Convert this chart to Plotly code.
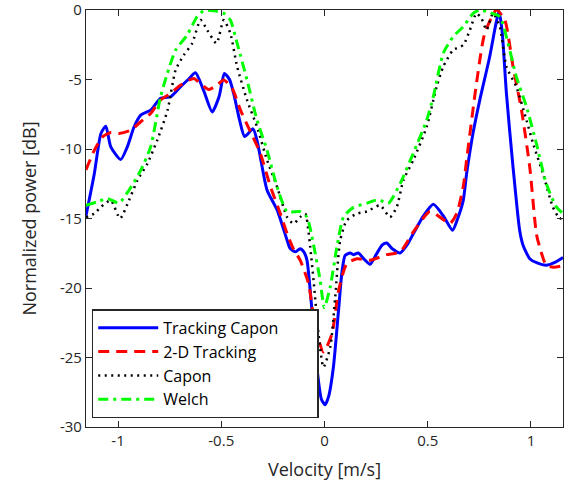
import plotly.graph_objects as go

# ---- data ----
tc_x = [-1.155, -1.115, -1.083, -1.059, -1.035, -0.987, -0.955, -0.922, -0.89, -0.842, -0.794, -0.745,
        -0.697, -0.66, -0.625, -0.585, -0.544, -0.51, -0.485, -0.46, -0.44, -0.41, -0.387, -0.346,
        -0.325, -0.311, -0.278, -0.229, -0.181, -0.166, -0.14, -0.118, -0.1, -0.085, -0.069, -0.061,
        -0.037, -0.015, 0.003, 0.02, 0.043, 0.068, 0.085, 0.1, 0.124, 0.14, 0.164, 0.19, 0.221, 0.25,
        0.28, 0.301, 0.33, 0.366, 0.4, 0.43, 0.48, 0.527, 0.575, 0.62, 0.645, 0.672, 0.688, 0.72,
        0.752, 0.8, 0.83, 0.845, 0.86, 0.881, 0.913, 0.945, 0.961, 0.994, 1.03, 1.074, 1.11, 1.155]
tc_y = [-14.8, -11.8, -8.9, -8.36, -9.85, -10.76, -9.85, -8.4, -7.56, -7.2, -6.36, -6.24,
        -5.52, -5.0, -4.52, -5.8, -7.33, -6.2, -4.56, -5.0, -6.0, -8.0, -9.1, -8.55,
        -9.5, -10.57, -12.97, -14.4, -16.57, -17.17, -17.4, -17.17, -17.4, -18.0, -20.2, -21.6,
        -25.7, -28.0, -28.4, -27.8, -25.7, -21.6, -18.8, -17.65, -17.48, -17.6, -17.48, -17.9, -18.3, -17.6,
        -16.9, -16.76, -17.2, -17.48, -16.9, -16.1, -14.8, -13.98, -14.8, -15.85, -15.0, -13.7, -11.8, -8.8,
        -6.48, -3.36, -1.0, -0.1, -1.5, -6.0, -11.3, -15.85, -16.9, -17.89, -18.2, -18.37, -18.2, -17.8]

tr_x = [-1.155, -1.115, -1.075, -1.035, -0.995, -0.939, -0.89, -0.842, -0.794, -0.745, -0.697, -0.633,
        -0.6, -0.56, -0.52, -0.488, -0.447, -0.407, -0.351, -0.311, -0.262, -0.214, -0.181, -0.15,
        -0.118, -0.077, -0.045, -0.005, 0.036, 0.068, 0.108, 0.157, 0.221, 0.301, 0.366, 0.43, 0.51,
        0.559, 0.607, 0.64, 0.672, 0.688, 0.736, 0.776, 0.833, 0.873, 0.913, 0.954, 0.994, 1.026,
        1.042, 1.074, 1.11, 1.155]
tr_y = [-11.5, -10.1, -9.13, -8.81, -8.88, -8.65, -8.04, -7.44, -6.48, -6.0, -5.4, -4.92,
        -5.3, -5.72, -5.4, -5.04, -5.64, -7.2, -9.0, -10.3, -12.7, -14.65, -16.1, -17.2,
        -18.0, -19.7, -22.8, -24.6, -23.3, -20.2, -18.25, -17.9, -18.0, -17.6, -17.4, -15.97, -14.5,
        -14.9, -15.37, -14.65, -12.7, -10.8, -5.28, -1.68, 0.0, -0.72, -4.08, -7.2, -11.3, -16.1,
        -17.05, -18.37, -18.5, -18.4]

cp_x = [-1.155, -1.115, -1.083, -1.035, -0.99, -0.947, -0.906, -0.858, -0.81, -0.76, -0.721, -0.681,
        -0.641, -0.6, -0.568, -0.523, -0.488, -0.456, -0.423, -0.375, -0.327, -0.278, -0.23, -0.181,
        -0.15, -0.118, -0.093, -0.077, -0.069, -0.053, -0.029, -0.005, 0.028, 0.052, 0.076, 0.108,
        0.157, 0.205, 0.269, 0.317, 0.35, 0.382, 0.43, 0.495, 0.543, 0.575, 0.623, 0.672, 0.704,
        0.736, 0.76, 0.785, 0.816, 0.849, 0.881, 0.929, 0.978, 1.01, 1.058, 1.106, 1.139, 1.155]
cp_y = [-14.9, -14.65, -14.17, -13.7, -15.0, -13.7, -12.25, -11.05, -9.37, -7.2, -4.32, -3.24,
        -2.4, -0.72, -1.44, -2.4, -0.72, -1.68, -4.08, -6.48, -8.4, -10.8, -12.7, -14.9,
        -15.37, -14.9, -14.65, -16.0, -17.05, -19.45, -23.3, -25.7, -24.25, -20.65, -16.57, -15.13,
        -14.65, -14.5, -14.05, -14.9, -14.17, -12.25, -10.8, -8.4, -5.52, -4.08, -2.88, -2.52, -1.44,
        -0.24, -0.6, -1.44, -0.24, -1.2, -4.08, -5.52, -7.92, -9.6, -11.77, -14.17, -15.0, -14.9]

we_x = [-1.155, -1.1, -1.051, -0.995, -0.947, -0.89, -0.842, -0.794, -0.761, -0.721, -0.665, -0.617,
        -0.585, -0.536, -0.488, -0.456, -0.423, -0.375, -0.327, -0.278, -0.23, -0.181, -0.118, -0.085,
        -0.053, -0.021, -0.001, 0.028, 0.06, 0.092, 0.14, 0.205, 0.261, 0.309, 0.366, 0.43, 0.495,
        0.527, 0.575, 0.623, 0.672, 0.72, 0.752, 0.8, 0.849, 0.889, 0.929, 0.978, 1.026, 1.074,
        1.123, 1.155]
we_y = [-14.05, -13.8, -13.57, -13.88, -12.97, -11.53, -9.85, -6.24, -4.56, -2.88, -1.8, -0.48,
        -0.05, -0.05, -0.24, -0.72, -2.4, -5.04, -7.92, -10.1, -12.7, -14.5, -14.5, -14.9,
        -16.9, -19.45, -21.4, -19.9, -17.05, -14.9, -14.2, -13.9, -13.64, -13.9, -12.5, -10.3, -7.92,
        -6.24, -3.12, -1.92, -1.2, -0.24, 0.0, -0.19, -0.48, -2.4, -4.8, -6.96, -9.6, -12.49,
        -14.17, -14.65]

names = ["Tracking Capon", "2-D Tracking", "Capon", "Welch"]
x_ticks = [-1, -0.5, 0, 0.5, 1]
x_tick_labels = ["-1", "-0.5", "0", "0.5", "1"]
y_ticks = [-30, -25, -20, -15, -10, -5, 0]
y_tick_labels = ["-30", "-25", "-20", "-15", "-10", "-5", "0"]

FONT = "Open Sans"
AX = "#262626"
pad = "\u00a0" * 8

fig = go.Figure()
fig.add_trace(go.Scatter(x=tc_x, y=tc_y, mode="lines", name=names[0] + pad,
                         line=dict(color="#0000ff", width=3, shape="spline", smoothing=0.6)))
fig.add_trace(go.Scatter(x=tr_x, y=tr_y, mode="lines", name=names[1],
                         line=dict(color="#ff0000", width=3, dash="11px,7px", shape="spline", smoothing=0.6)))
fig.add_trace(go.Scatter(x=cp_x, y=cp_y, mode="lines", name=names[2],
                         line=dict(color="#000000", width=2.5, dash="2px,4.5px", shape="spline", smoothing=0.6)))
fig.add_trace(go.Scatter(x=we_x, y=we_y, mode="lines", name=names[3],
                         line=dict(color="#00ff00", width=3, dash="10px,5px,3px,5px", shape="spline", smoothing=0.6)))

axis_common = dict(showline=True, linecolor=AX, linewidth=1.2, mirror="ticks", ticks="inside",
                   ticklen=6, tickwidth=1.2, tickcolor=AX, showgrid=False, zeroline=False,
                   automargin=False, ticklabeloverflow="allow",
                   tickfont=dict(family=FONT, size=15, color=AX))

fig.update_xaxes(range=[-1.155, 1.155], tickvals=x_ticks, ticktext=x_tick_labels,
                 title=dict(text="Velocity [m/s]", font=dict(family=FONT, size=18, color=AX), standoff=14),
                 **axis_common)
fig.update_yaxes(range=[-30, 0], tickvals=y_ticks, ticktext=y_tick_labels,
                 title=dict(text="Normalized power [dB]", font=dict(family=FONT, size=18, color=AX), standoff=18),
                 **axis_common)

fig.update_layout(
    width=573, height=495,
    margin=dict(l=86, r=10, t=10, b=68, autoexpand=False),
    paper_bgcolor="white", plot_bgcolor="white",
    font=dict(family=FONT, color=AX),
    legend=dict(x=0.012, y=0.282, xanchor="left", yanchor="top",
                bgcolor="white", bordercolor=AX, borderwidth=1.5,
                font=dict(family=FONT, size=16, color="#000000"),
                itemwidth=60, tracegroupgap=0),
    showlegend=True,
)

# remove the browser's default 8px page margin so the figure sits at the window's corner
fig.write_html("out.html", config={"displayModeBar": False},
               post_script="document.body.style.margin='0';")
